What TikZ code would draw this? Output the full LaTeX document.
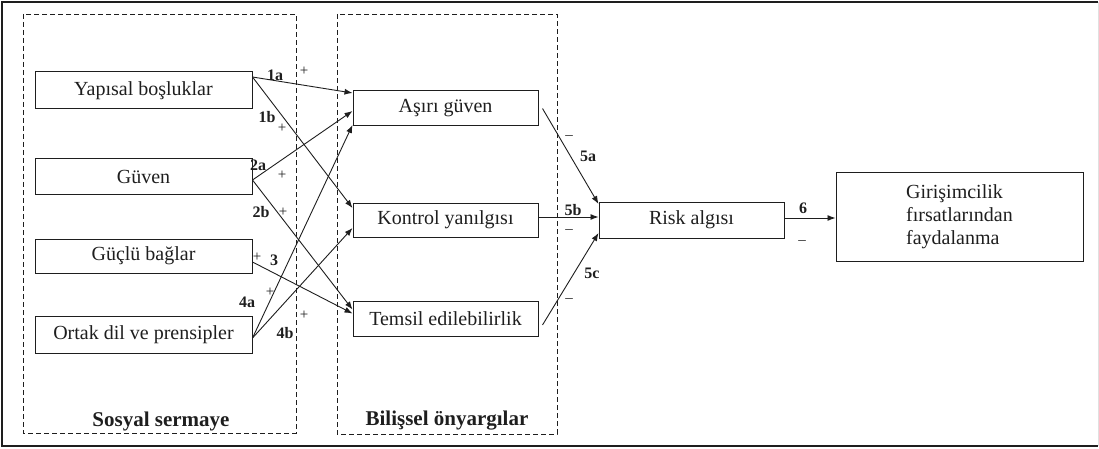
\documentclass[tikz,border=0pt]{standalone}
\usepackage{fontspec}
\setmainfont{Liberation Serif}
\usetikzlibrary{arrows.meta,calc}
\definecolor{ink}{HTML}{1E1E1E}
\begin{document}
\begin{tikzpicture}[x=1pt,y=-1pt,
  every node/.style={text=ink},
  box/.style={draw=ink,line width=1pt,minimum width=217pt,minimum height=36pt,
    inner sep=0pt,font=\fontsize{20}{23}\selectfont},
  midbox/.style={box,minimum width=185pt},
  group/.style={draw=ink,dashed,dash pattern=on 5pt off 3pt,line width=0.9pt},
  link/.style={draw=ink,line width=0.9pt,-{Latex[length=8pt,width=6pt]}},
  num/.style={font=\bfseries\fontsize{16}{18}\selectfont,inner sep=0pt},
  sgn/.style={font=\fontsize{15}{17}\selectfont,inner sep=0pt},
  title/.style={font=\bfseries\fontsize{21}{24}\selectfont,inner sep=0pt}]
\useasboundingbox (0,0) rectangle (1099,449);

% outer frame
\draw[ink,line width=2pt] (1098,2) -- (2,2) -- (2,446) -- (1098,446);
\draw[black!12,line width=1pt] (1098,2) -- (1098,446);

% grouping frames
\draw[group] (23,14) rectangle (296,433);
\draw[group] (337,14) rectangle (557,434);
\node[title] (gss) at (161,421) {Sosyal sermaye};
\node[title] (gbo) at (447,421) {Bilişsel önyargılar};

% social capital dimensions
\node[box,minimum height=37pt] (yap) at (143.5,90.5) {Yapısal boşluklar};
\node[box,minimum height=35pt] (guv) at (143.5,176.5) {Güven};
\node[box,minimum height=34pt] (guc) at (143.5,256) {Güçlü bağlar};
\node[box,minimum height=37pt] (ort) at (143.5,334.5) {Ortak dil ve prensipler};

% cognitive biases
\node[midbox,minimum height=35pt] (asi) at (445.5,108.5) {Aşırı güven};
\node[midbox,minimum height=34pt] (kon) at (445.5,220) {Kontrol yanılgısı};
\node[midbox,minimum height=35pt] (tem) at (445.5,318.5) {Temsil edilebilirlik};

% risk and outcome
\node[midbox,minimum height=36pt] (ris) at (691.5,220) {Risk algısı};
\node[box,minimum width=247pt,minimum height=88pt,align=left] (gir) at (959.5,217)
  {Girişimcilik\\fırsatlarından\\faydalanma};

% start points on the box edges
\coordinate (yapO) at ([yshift=13.5pt]yap.east);
\coordinate (guvO) at ([yshift=-3.5pt]guv.east);
\coordinate (gucO) at ([yshift=-6pt]guc.east);
\coordinate (ortO) at ([yshift=-3.5pt]ort.east);
\coordinate (asiO) at ([xshift=4pt]asi.east);
\coordinate (konO) at ([yshift=3pt]kon.east);
\coordinate (temO) at ([xshift=4pt,yshift=-6.5pt]tem.east);

% social capital -> biases
\draw[link] (yapO) -- ([yshift=15.5pt]asi.west);
\draw[link] (yapO) -- ([yshift=12pt]kon.west);
\draw[link] (guvO) -- ([yshift=-2.5pt]asi.west);
\draw[link] (guvO) -- ([yshift=9pt]tem.west);
\draw[link] (gucO) -- ([yshift=5pt]tem.west);
\draw[link] (ortO) -- ([yshift=-16.5pt]asi.west);
\draw[link] (ortO) -- ([yshift=-8pt]kon.west);

% biases -> risk perception -> outcome
\draw[link] (asiO) -- ([yshift=16pt]ris.west);
\draw[link] (konO) -- ([yshift=3pt]ris.west);
\draw[link] (temO) -- ([yshift=-13pt]ris.west);
\draw[link] ([yshift=2pt]ris.east) -- ([yshift=-1pt]gir.west);

% path labels
\node[num] (l1a) at (275,75) {1a};
\node[sgn] (p1a) at (304,71) {+};
\node[num] (l1b) at (267,117) {1b};
\node[sgn] (p1b) at (282,128) {+};
\node[num] (l2a) at (258,165) {2a};
\node[sgn] (p2a) at (282,175) {+};
\node[num] (l2b) at (261,212) {2b};
\node[sgn] (p2b) at (283,212) {+};
\node[sgn] (p3) at (257,257) {+};
\node[num] (l3) at (274,260) {3};
\node[num] (l4a) at (247,302) {4a};
\node[sgn] (p4a) at (270,292) {+};
\node[num] (l4b) at (285,333) {4b};
\node[sgn] (p4b) at (304,315) {+};
\node[sgn] (m5a) at (569,138) {--};
\node[num] (l5a) at (588,156) {5a};
\node[num] (l5b) at (573,210) {5b};
\node[sgn] (m5b) at (569,232) {--};
\node[num] (l5c) at (592,273) {5c};
\node[sgn] (m5c) at (569,301) {--};
\node[num] (l6) at (803,208) {6};
\node[sgn] (m6) at (802,243) {--};
\end{tikzpicture}
\end{document}
